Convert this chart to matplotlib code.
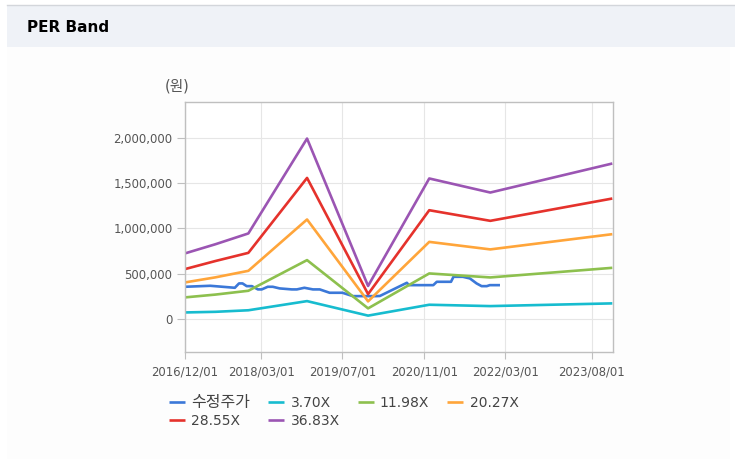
import numpy as np
import pandas as pd
import matplotlib
matplotlib.use("Agg")
import matplotlib.pyplot as plt
import matplotlib.dates as mdates
from matplotlib.patches import Rectangle
from matplotlib.ticker import FuncFormatter

plt.rcParams['font.family'] = ['DejaVu Sans', 'Noto Sans CJK KR']

# PER band key dates (bands are piecewise between these)
band_dates = ['2016-12-01', '2017-06-01', '2017-12-15', '2018-12-01',
              '2019-12-01', '2020-12-01', '2021-12-01', '2023-12-01']
band_370 = [73000, 80000, 97000, 198000, 38000, 158000, 143000, 173000]
band_1198 = [239000, 270000, 312000, 650000, 118000, 503000, 459000, 565000]
band_2027 = [404000, 460000, 532000, 1098000, 195000, 851000, 768000, 936000]
band_2855 = [551000, 640000, 730000, 1556000, 275000, 1200000, 1083000, 1329000]
band_3683 = [724000, 825000, 944000, 1990000, 365000, 1550000, 1395000, 1715000]

# adjusted stock price
price_dates = ['2016-12-01', '2017-05-01', '2017-09-25', '2017-10-20', '2017-11-10',
               '2017-12-05', '2018-01-05', '2018-02-10', '2018-03-05', '2018-04-10',
               '2018-05-10', '2018-06-20', '2018-09-01', '2018-10-01', '2018-11-15',
               '2019-01-05', '2019-02-15', '2019-04-15', '2019-07-01', '2019-09-01',
               '2020-01-20', '2020-02-10', '2020-07-20', '2020-08-01', '2020-12-25',
               '2021-01-15', '2021-04-10', '2021-04-25', '2021-06-20', '2021-08-01',
               '2021-09-10', '2021-10-10', '2021-11-10', '2021-11-28', '2022-01-10',
               '2022-01-28']
price = [356000, 367000, 345000, 393000, 393000, 363000, 363000, 327000, 327000, 356000,
         356000, 338000, 327000, 327000, 345000, 327000, 327000, 290000, 290000, 253000,
         253000, 255000, 400000, 374000, 374000, 411000, 411000, 466000, 466000, 448000,
         393000, 363000, 363000, 374000, 374000, 374000]

labels = ['수정주가', '3.70X', '11.98X', '20.27X', '28.55X', '36.83X']
colors = ['#3b78d8', '#17bccf', '#8dc04e', '#ffa53a', '#e5322c', '#9b55b3']

tick_dates = ['2016-12-01', '2018-03-01', '2019-07-01', '2020-11-01', '2022-03-01', '2023-08-01']
y_ticks = [0, 500000, 1000000, 1500000, 2000000]

fig = plt.figure(figsize=(7.35, 4.59), dpi=100)
fig.patch.set_facecolor('white')

# page background and header band
fig.patches.append(Rectangle((7/735, 0), 723/735, 1 - 47/459,
                             transform=fig.transFigure, facecolor='#fdfdfd',
                             edgecolor='none', zorder=-10))
fig.patches.append(Rectangle((7/735, 1 - 47/459), 728/735, 42/459,
                             transform=fig.transFigure, facecolor='#eff2f7',
                             edgecolor='none', zorder=-10))
fig.add_artist(plt.Line2D([7/735, 1], [1 - 5/459, 1 - 5/459], transform=fig.transFigure,
                          color='#d3d6db', lw=1))
fig.text(27/735, 1 - 28/459, 'PER Band', fontsize=11, fontweight='bold',
         color='black', va='center', ha='left')

ax = fig.add_axes([185/735, 1 - 352/459, 428/735, 250/459])
ax.set_facecolor('white')

bd = pd.to_datetime(band_dates)
pdts = pd.to_datetime(price_dates)
series = [(pdts, price), (bd, band_370), (bd, band_1198), (bd, band_2027),
          (bd, band_2855), (bd, band_3683)]
handles = []
for (d, v), lab, c in zip(series, labels, colors):
    h, = ax.plot(d, v, color=c, lw=1.9, label=lab, solid_capstyle='butt')
    handles.append(h)

ax.set_xlim(pd.Timestamp('2016-12-01'), pd.Timestamp('2023-12-05'))
ax.set_ylim(-363000, 2393000)

ax.set_xticks(pd.to_datetime(tick_dates))
ax.xaxis.set_major_formatter(mdates.DateFormatter('%Y/%m/%d'))
ax.set_yticks(y_ticks)
ax.yaxis.set_major_formatter(FuncFormatter(lambda v, p: f'{int(v):,}'))

ax.grid(True, color='#e6e6e6', lw=0.8)
ax.set_axisbelow(True)
for s in ax.spines.values():
    s.set_color('#bfbfbf')
    s.set_linewidth(1)
ax.tick_params(axis='x', length=5, color='#bfbfbf', labelsize=8.4, labelcolor='#555555', pad=5)
ax.tick_params(axis='y', length=6, color='#bfbfbf', labelsize=8.4, labelcolor='#555555', pad=3)

fig.text(177/735, 1 - 86/459, '(원)', fontsize=10.5, color='#555555', ha='center', va='center')

# legend in row order: col1 = item0,item4 ; col2 = item1,item5 ; col3 = item2 ; col4 = item3
order = [0, 4, 1, 5, 2, 3]
leg = fig.legend([handles[i] for i in order], [labels[i] for i in order],
                 ncol=4, loc='upper left', bbox_to_anchor=(169/735, 1 - 395/459),
                 frameon=False, fontsize=10, handlelength=1.15, handletextpad=0.45,
                 columnspacing=1.3, labelspacing=0.3, borderpad=0, borderaxespad=0)
for t in leg.get_texts():
    t.set_color('#444444')
    if t.get_text() == '수정주가':
        t.set_fontsize(11.5)

fig.savefig('out.png', dpi=100)
